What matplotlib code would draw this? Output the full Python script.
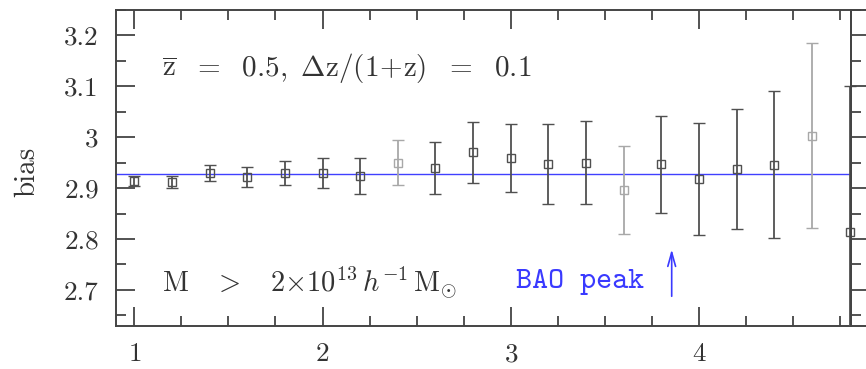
import matplotlib
matplotlib.use("Agg")
import matplotlib.pyplot as plt
from matplotlib.patches import Rectangle
from matplotlib.ticker import MultipleLocator

# ---- data ----
sep = [1.0, 1.2, 1.4, 1.6, 1.8, 2.0, 2.2, 2.4, 2.6, 2.8, 3.0, 3.2, 3.4, 3.6, 3.8,
       4.0, 4.2, 4.4, 4.6, 4.8]
bias = [2.914, 2.912, 2.930, 2.922, 2.930, 2.930, 2.924, 2.950, 2.940, 2.970,
        2.959, 2.947, 2.950, 2.896, 2.947, 2.918, 2.938, 2.946, 3.003, 2.813]
bias_err = [0.010, 0.011, 0.016, 0.019, 0.023, 0.029, 0.036, 0.044, 0.051, 0.060,
            0.067, 0.079, 0.081, 0.087, 0.095, 0.110, 0.118, 0.144, 0.182, 0.287]
mean_bias = 2.9285
bao_x = 3.855
xticks = [1, 2, 3, 4]
yticks = [2.7, 2.8, 2.9, 3.0, 3.1, 3.2]
ytick_labels = ["2.7", "2.8", "2.9", "3", "3.1", "3.2"]

# faint (anti-aliased looking) bars
light = {2.4, 3.6, 4.6}

plt.rcParams['font.family'] = ['cmr10', 'DejaVu Serif']
plt.rcParams['mathtext.fontset'] = 'cm'
plt.rcParams['axes.formatter.use_mathtext'] = True

W, H = 866, 369
fig = plt.figure(figsize=(W / 100, H / 100), dpi=100)
L, R, B, T = 115.5, 850.5, 326, 10
ax = fig.add_axes([L / W, 1 - B / H, (R - L) / W, (B - T) / H])

tc = '#444444'
txt = '#333333'
ax.set_xlim(0.9, 4.805)
ax.set_ylim(2.629, 3.25)

ax.axhline(mean_bias, color='#4040ff', lw=1.0, zorder=1)

clip = Rectangle((0, 0), 1.03, 1, transform=ax.transAxes)
for x, y, e in zip(sep, bias, bias_err):
    col = '#a8a8a8' if x in light else '#505050'
    cont = ax.errorbar([x], [y], yerr=[e], fmt='s', ms=6.3, mfc='none', mec=col,
                       mew=1.0, ecolor=col, elinewidth=1.3, capsize=4.5,
                       capthick=1.3, zorder=3)
    arts = [cont.lines[0]] + list(cont.lines[1]) + list(cont.lines[2])
    for a in arts:
        a.set_clip_path(clip)

ax.set_xticks(xticks)
ax.xaxis.set_minor_locator(MultipleLocator(0.25))
ax.set_yticks(yticks)
ax.set_yticklabels(ytick_labels)
ax.yaxis.set_minor_locator(MultipleLocator(0.05))
ax.tick_params(which='both', direction='in', top=True, right=False, color=tc,
               width=1.3, labelcolor=txt, labelsize=19.5)
ax.tick_params(which='major', length=13.5)
ax.tick_params(which='minor', length=7)
ax.tick_params(axis='x', pad=12)
ax.tick_params(axis='y', pad=12)
for s in ax.spines.values():
    s.set_color(tc)
    s.set_linewidth(1.4)

fig.text(27 / W, 1 - 172 / H, 'bias', rotation=90, ha='center', va='center',
         fontsize=21, color=txt)

ax.text(1.146, 3.137,
        r'$\overline{\mathrm{z}}\ \ =\ \ 0.5,\ \Delta\mathrm{z}/(1\!+\!\mathrm{z})\ \ =\ \ 0.1$',
        ha='left', va='center', fontsize=21, color=txt)
ax.text(1.146, 2.714,
        r'$\mathrm{M}\ \ \ >\ \ \ 2{\times}10^{13}\,h^{-1}\,\mathrm{M}_{\odot}$',
        ha='left', va='center', fontsize=20.5, color=txt)
ax.text(3.37, 2.716, 'BAO peak', ha='center', va='center', fontsize=22,
        color='#3a3aff', family=['cmtt10', 'DejaVu Sans Mono'])
ax.annotate('', xy=(bao_x, 2.785), xytext=(bao_x, 2.682),
            arrowprops=dict(arrowstyle='->,head_length=1.0,head_width=0.28',
                            color='#3a3aff', lw=1.2))

# neighbouring panel edge on the right
ax2 = fig.add_axes([R / W, 1 - B / H, 0.3, (B - T) / H])
ax2.set_ylim(2.629, 3.25)
ax2.set_yticks(yticks)
ax2.yaxis.set_minor_locator(MultipleLocator(0.05))
ax2.set_xticks([])
ax2.tick_params(which='both', direction='in', labelleft=False, color=tc, width=1.3)
ax2.tick_params(which='major', length=13.5)
ax2.tick_params(which='minor', length=7)
for s in ax2.spines.values():
    s.set_color(tc)
    s.set_linewidth(1.4)
ax2.patch.set_alpha(0)

fig.savefig('out.png', dpi=100)
